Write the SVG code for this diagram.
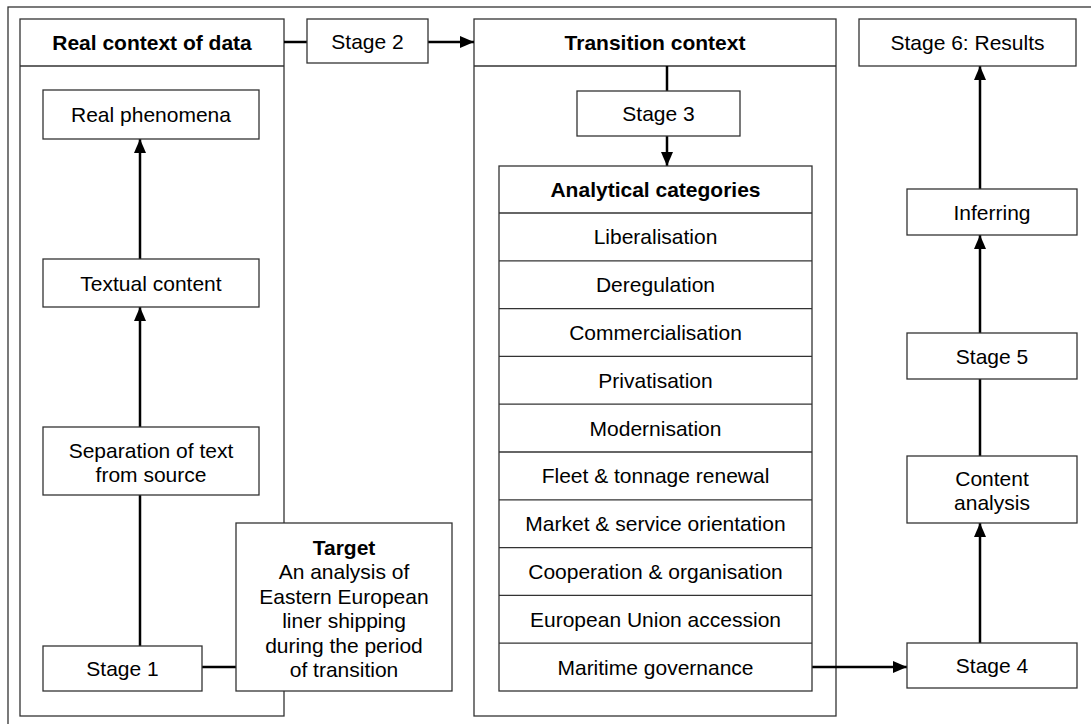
<svg xmlns="http://www.w3.org/2000/svg" width="1091" height="724" viewBox="0 0 1091 724">
  <style>
    .box { fill: #fff; stroke: #333; stroke-width: 1.3; }
    .frame { fill: none; stroke: #333; stroke-width: 1.3; }
    .t { font-family: "Liberation Sans", Arial, sans-serif; font-size: 21px; fill: #000; text-anchor: middle; }
    .b { font-weight: bold; }
    .conn { stroke: #000; stroke-width: 2.5; fill: none; }
  </style>
  <defs>
    <marker id="arrow" viewBox="0 0 14 12" refX="14" refY="6" markerWidth="14" markerHeight="12" markerUnits="userSpaceOnUse" orient="auto">
      <path d="M0,0 L14,6 L0,12 Z" fill="#000"/>
    </marker>
  </defs>

  <rect width="1091" height="724" fill="#fff"/>

  <!-- outer frame -->
  <rect class="frame" x="8" y="7" width="1095" height="730"/>

  <!-- real context column -->
  <g id="real-context">
    <rect class="box" x="20" y="19" width="264" height="697"/>
    <line class="frame" x1="20" y1="66" x2="284" y2="66"/>
    <text class="t b" x="152" y="50">Real context of data</text>
  </g>

  <!-- transition context column -->
  <g id="transition-context">
    <rect class="box" x="474" y="19" width="362" height="697"/>
    <line class="frame" x1="474" y1="66" x2="836" y2="66"/>
    <text class="t b" x="655" y="50">Transition context</text>
  </g>

  <!-- connectors -->
  <g id="connectors">
    <line class="conn" x1="284" y1="42" x2="307" y2="42"/>
    <line class="conn" x1="428" y1="42" x2="474" y2="42" marker-end="url(#arrow)"/>
    <line class="conn" x1="667" y1="66" x2="667" y2="91"/>
    <line class="conn" x1="667" y1="136" x2="667" y2="166" marker-end="url(#arrow)"/>
    <line class="conn" x1="140" y1="646" x2="140" y2="494"/>
    <line class="conn" x1="140" y1="427" x2="140" y2="307" marker-end="url(#arrow)"/>
    <line class="conn" x1="140" y1="259" x2="140" y2="139" marker-end="url(#arrow)"/>
    <line class="conn" x1="202" y1="667" x2="236" y2="667"/>
    <line class="conn" x1="812" y1="667" x2="907" y2="667" marker-end="url(#arrow)"/>
    <line class="conn" x1="980" y1="643" x2="980" y2="523" marker-end="url(#arrow)"/>
    <line class="conn" x1="980" y1="456" x2="980" y2="379"/>
    <line class="conn" x1="980" y1="333" x2="980" y2="235" marker-end="url(#arrow)"/>
    <line class="conn" x1="980" y1="189" x2="980" y2="66" marker-end="url(#arrow)"/>
  </g>

  <g id="stage2">
    <rect class="box" x="307" y="19" width="121" height="44"/>
    <text class="t" x="367.5" y="48.5">Stage 2</text>
  </g>

  <g id="stage6">
    <rect class="box" x="859" y="19" width="217" height="47"/>
    <text class="t" x="967.5" y="50">Stage 6: Results</text>
  </g>

  <g id="real-phenomena">
    <rect class="box" x="43" y="90" width="216" height="49"/>
    <text class="t" x="151" y="122">Real phenomena</text>
  </g>

  <g id="textual-content">
    <rect class="box" x="43" y="259" width="216" height="48"/>
    <text class="t" x="151" y="290.5">Textual content</text>
  </g>

  <g id="separation">
    <rect class="box" x="43" y="427" width="216" height="68"/>
    <text class="t" x="151" y="457.5">Separation of text</text>
    <text class="t" x="151" y="481.5">from source</text>
  </g>

  <g id="stage1">
    <rect class="box" x="43" y="646" width="159" height="45"/>
    <text class="t" x="122.5" y="676">Stage 1</text>
  </g>

  <g id="target">
    <rect class="box" x="236" y="523" width="216" height="168"/>
    <text class="t b" x="344" y="554.5">Target</text>
    <text class="t" x="344" y="579">An analysis of</text>
    <text class="t" x="344" y="603.5">Eastern European</text>
    <text class="t" x="344" y="628">liner shipping</text>
    <text class="t" x="344" y="652.5">during the period</text>
    <text class="t" x="344" y="677">of transition</text>
  </g>

  <g id="stage3">
    <rect class="box" x="577" y="91" width="163" height="45"/>
    <text class="t" x="658.5" y="121">Stage 3</text>
  </g>

  <g id="analytical-categories">
    <rect class="box" x="499" y="166" width="313" height="525"/>
    <g class="frame">
      <line x1="499" y1="213" x2="812" y2="213"/>
      <line x1="499" y1="260.8" x2="812" y2="260.8"/>
      <line x1="499" y1="308.6" x2="812" y2="308.6"/>
      <line x1="499" y1="356.4" x2="812" y2="356.4"/>
      <line x1="499" y1="404.2" x2="812" y2="404.2"/>
      <line x1="499" y1="452" x2="812" y2="452"/>
      <line x1="499" y1="499.8" x2="812" y2="499.8"/>
      <line x1="499" y1="547.6" x2="812" y2="547.6"/>
      <line x1="499" y1="595.4" x2="812" y2="595.4"/>
      <line x1="499" y1="643.2" x2="812" y2="643.2"/>
    </g>
    <text class="t b" x="655.5" y="197">Analytical categories</text>
    <text class="t" x="655.5" y="244.4">Liberalisation</text>
    <text class="t" x="655.5" y="292.2">Deregulation</text>
    <text class="t" x="655.5" y="340">Commercialisation</text>
    <text class="t" x="655.5" y="387.8">Privatisation</text>
    <text class="t" x="655.5" y="435.6">Modernisation</text>
    <text class="t" x="655.5" y="483.4">Fleet &amp; tonnage renewal</text>
    <text class="t" x="655.5" y="531.2">Market &amp; service orientation</text>
    <text class="t" x="655.5" y="579">Cooperation &amp; organisation</text>
    <text class="t" x="655.5" y="626.8">European Union accession</text>
    <text class="t" x="655.5" y="674.6">Maritime governance</text>
  </g>

  <g id="inferring">
    <rect class="box" x="907" y="189" width="170" height="46"/>
    <text class="t" x="992" y="219.5">Inferring</text>
  </g>

  <g id="stage5">
    <rect class="box" x="907" y="333" width="170" height="46"/>
    <text class="t" x="992" y="363.5">Stage 5</text>
  </g>

  <g id="content-analysis">
    <rect class="box" x="907" y="456" width="170" height="67"/>
    <text class="t" x="992" y="485.5">Content</text>
    <text class="t" x="992" y="510">analysis</text>
  </g>

  <g id="stage4">
    <rect class="box" x="907" y="643" width="170" height="45"/>
    <text class="t" x="992" y="673">Stage 4</text>
  </g>
</svg>
